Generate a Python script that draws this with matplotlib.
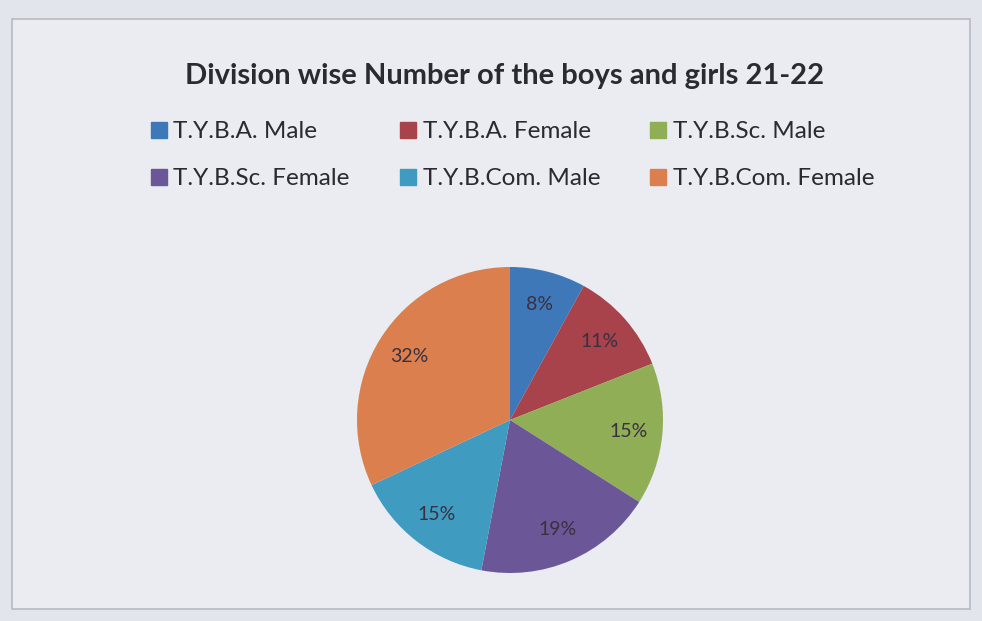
import matplotlib.pyplot as plt
from matplotlib.patches import Rectangle
from matplotlib.lines import Line2D

plt.rcParams['font.family'] = ['Lato', 'DejaVu Sans']

categories = ['T.Y.B.A. Male', 'T.Y.B.A. Female', 'T.Y.B.Sc. Male',
              'T.Y.B.Sc. Female', 'T.Y.B.Com. Male', 'T.Y.B.Com. Female']
shares = [8, 11, 15, 19, 15, 32]
colors = ['#3f78b8', '#a8434c', '#8fae55', '#6b5797', '#3f9cc0', '#db7f4e']
title = 'Division wise Number of the boys and girls 21-22'

fig = plt.figure(figsize=(9.82, 6.21), dpi=100)
fig.patch.set_facecolor('#e3e5ec')

# chart area frame
fig.patches.append(Rectangle((0.012, 0.02), 0.976, 0.95, transform=fig.transFigure,
                             facecolor='#eaecf2', edgecolor='#b8bac2', lw=1.2, zorder=-5))

fig.text(0.514, 0.877, title, ha='center', va='center', fontsize=21,
         fontweight='bold', color='#2a2a30')

ax = fig.add_axes([(510 - 153) / 982, (201 - 153) / 621, 306 / 982, 306 / 621])
wedges, texts, autotexts = ax.pie(shares, colors=colors, startangle=90, counterclock=False,
                                  autopct='%d%%', pctdistance=0.78,
                                  wedgeprops=dict(edgecolor='none'),
                                  textprops=dict(fontsize=14, color='#3a3040'))
ax.set_xlim(-1.0, 1.0)
ax.set_ylim(-1.0, 1.0)
ax.set_aspect('equal')

handles = [Line2D([], [], marker='s', ls='none', markersize=12, color=c) for c in colors]
order = [0, 3, 1, 4, 2, 5]
fig.legend([handles[i] for i in order], [categories[i] for i in order],
           ncol=3, loc='center left', bbox_to_anchor=(0.127, 0.75),
           frameon=False, fontsize=17.5, handletextpad=0.1, columnspacing=1.9,
           labelspacing=1.05, handlelength=1.0, labelcolor='#2a2a30')

fig.savefig('out.png', dpi=100, facecolor=fig.get_facecolor())
